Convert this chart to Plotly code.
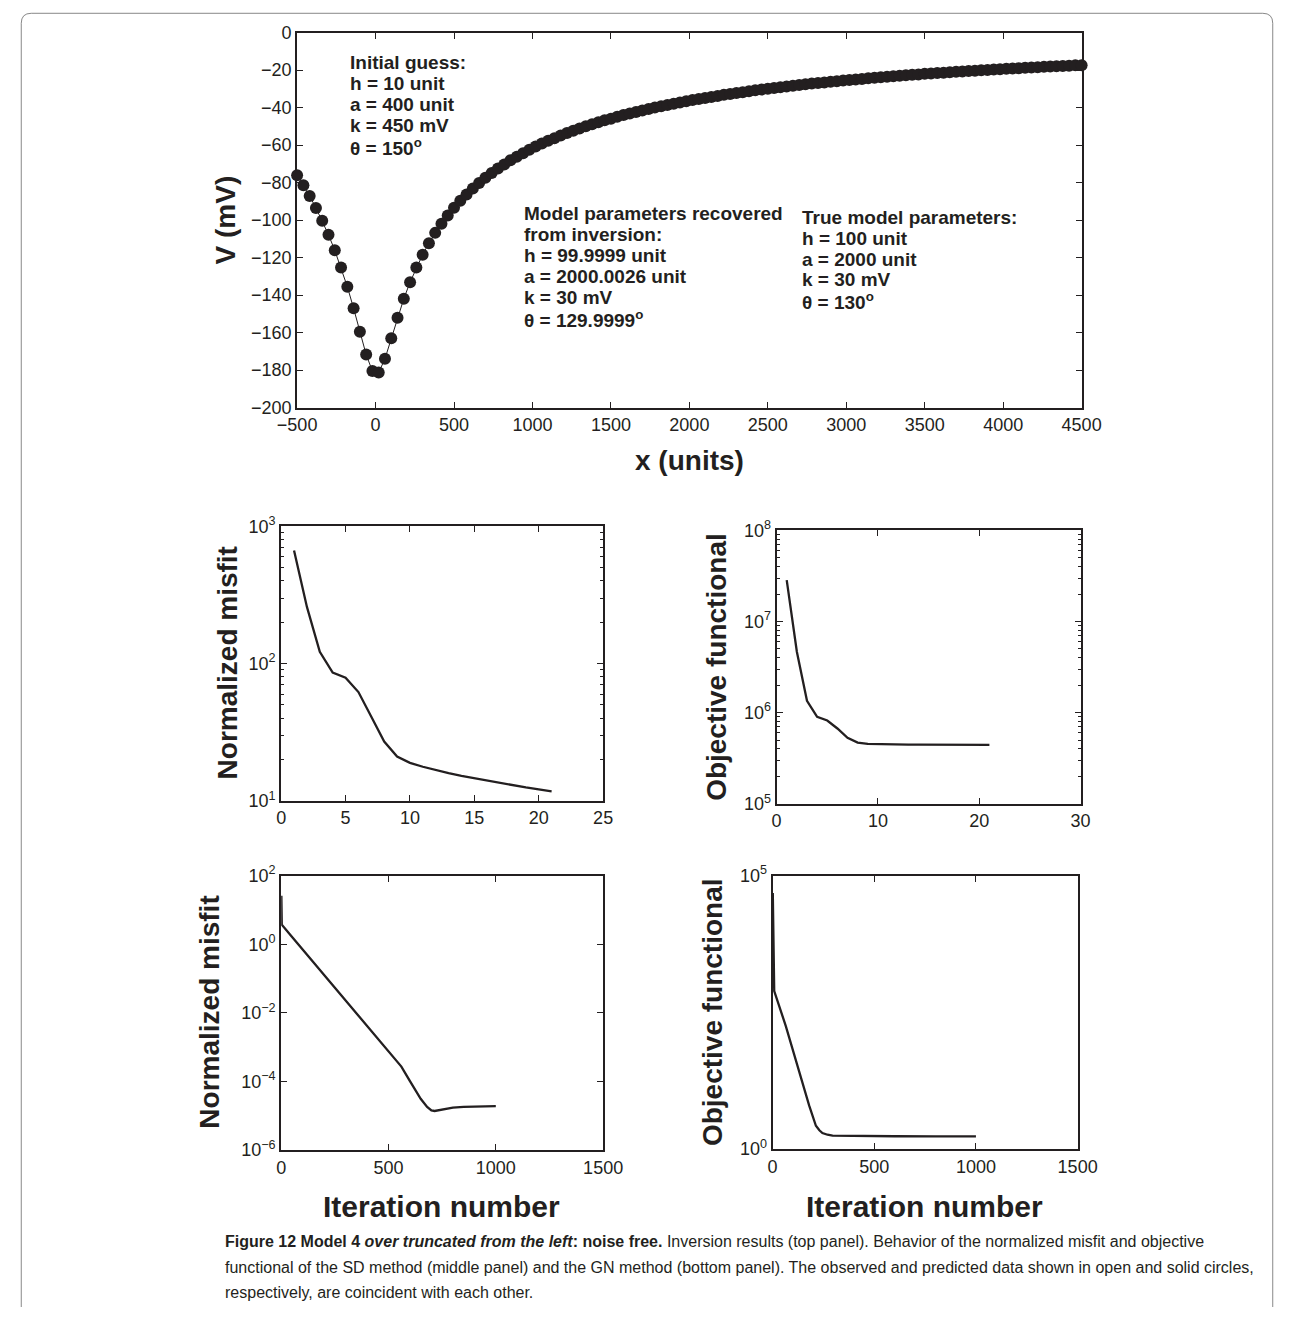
import plotly.graph_objects as go

W, H = 1294, 1317
INK = '#231f20'

# ---- top panel: V (mV) vs x (units), sampled every 40 units from -500 to 4500
x_obs = list(range(-500, 4501, 40))
v_pred = [-76.1, -81.4, -87.2, -93.5, -100.3, -107.8, -116.1, -125.3, -135.5, -147.0, -159.5, -171.7, -180.5,
          -181.2, -173.9, -163.0, -152.0, -141.9, -133.1, -125.3, -118.4, -112.3, -106.8, -101.9, -97.5, -93.4,
          -89.7, -86.3, -83.1, -80.2, -77.4, -74.9, -72.5, -70.3, -68.1, -66.2, -64.3, -62.5, -60.8, -59.2, -57.7,
          -56.3, -54.9, -53.6, -52.3, -51.1, -50.0, -48.9, -47.8, -46.8, -45.9, -44.9, -44.0, -43.2, -42.3, -41.5,
          -40.8, -40.0, -39.3, -38.6, -37.9, -37.3, -36.6, -36.0, -35.4, -34.9, -34.3, -33.8, -33.2, -32.7, -32.2,
          -31.8, -31.3, -30.8, -30.4, -30.0, -29.5, -29.1, -28.7, -28.4, -28.0, -27.6, -27.2, -26.9, -26.6, -26.2,
          -25.9, -25.6, -25.3, -25.0, -24.7, -24.4, -24.1, -23.8, -23.6, -23.3, -23.0, -22.8, -22.5, -22.3, -22.0,
          -21.8, -21.6, -21.4, -21.1, -20.9, -20.7, -20.5, -20.3, -20.1, -19.9, -19.7, -19.5, -19.3, -19.2, -19.0,
          -18.8, -18.6, -18.5, -18.3, -18.1, -18.0, -17.8, -17.7, -17.5, -17.4]

# ---- SD method (middle panels)
sd_iter = list(range(1, 22))
sd_misfit = [668, 259, 122, 86, 79, 62, 41, 27, 21, 18.9, 17.7, 16.7, 15.9, 15.2, 14.6, 14.0, 13.4, 12.9, 12.5, 12.1, 11.7]
sd_objective = [2.84e7, 4.66e6, 1.35e6, 9.0e5, 8.2e5, 6.7e5, 5.3e5, 4.7e5, 4.54e5, 4.5e5, 4.48e5, 4.47e5,
                4.46e5, 4.45e5, 4.45e5, 4.44e5, 4.44e5, 4.43e5, 4.43e5, 4.42e5, 4.42e5]

# ---- GN method (bottom panels)
gn_mis_iter = [1, 3, 50, 100, 200, 300, 400, 500, 560, 600, 650, 680, 700, 715, 740, 770, 800, 850, 900, 950, 1000]
gn_misfit = [26, 3.7, 1.64, 0.70, 0.127, 0.023, 0.0042, 7.5e-4, 2.7e-4, 1.02e-4, 3.1e-5, 1.8e-5, 1.42e-5,
             1.37e-5, 1.45e-5, 1.6e-5, 1.72e-5, 1.8e-5, 1.85e-5, 1.88e-5, 1.9e-5]
gn_obj_iter = [1, 8, 65, 131, 180, 213, 230, 245, 270, 295, 400, 600, 800, 1000]
gn_objective = [4.8e4, 770, 177, 24.9, 6.2, 2.66, 2.2, 1.96, 1.82, 1.75, 1.72, 1.71, 1.70, 1.70]

init_lines = ['Initial guess:', 'h = 10 unit', 'a = 400 unit', 'k = 450 mV', 'θ = 150<sup>o</sup>']
rec_lines = ['Model parameters recovered', 'from inversion:', 'h = 99.9999 unit', 'a = 2000.0026 unit',
             'k = 30 mV', 'θ = 129.9999<sup>o</sup>']
true_lines = ['True model parameters:', 'h = 100 unit', 'a = 2000 unit', 'k = 30 mV', 'θ = 130<sup>o</sup>']
caption = ['<b>Figure 12 Model 4 <i>over truncated from the left</i>: noise free.</b> Inversion results (top panel). Behavior of the normalized misfit and objective',
           'functional of the SD method (middle panel) and the GN method (bottom panel). The observed and predicted data shown in open and solid circles,',
           'respectively, are coincident with each other.']

# the page draws the figure paper into this box of the window
OX, SX = 18.0, 1258.0
OY, SY = 10.4, 1298.0


def px(x):
    return (x - OX) / SX


def py(y):
    return 1 - (y - OY) / SY


def xd(l, r):
    return [px(l), px(r)]


def yd(t, b):
    return [py(b), py(t)]


TF = dict(family='Liberation Sans, Arial, sans-serif', size=18, color=INK)
common = dict(showline=True, linecolor=INK, linewidth=2, mirror='ticks', ticks='inside', ticklen=6,
              tickwidth=1.2, tickcolor=INK, tickfont=TF, showgrid=False, zeroline=False)


def sup(n):
    s = str(n).replace('-', '−')
    return '10<sup>' + s + '</sup>'


def minor_ticks(lo, hi):
    return dict(ticks='inside', ticklen=3, tickcolor=INK, tickwidth=1, showgrid=False,
                tickvals=[m * 10 ** e for e in range(lo, hi) for m in range(2, 10)])


fig = go.Figure()
line = dict(color=INK, width=2.3)
fig.add_trace(go.Scatter(x=x_obs, y=v_pred, mode='lines+markers', line=dict(color=INK, width=1),
                         marker=dict(color=INK, size=12), cliponaxis=False, xaxis='x', yaxis='y'))
fig.add_trace(go.Scatter(x=sd_iter, y=sd_misfit, mode='lines', line=line, xaxis='x2', yaxis='y2'))
fig.add_trace(go.Scatter(x=sd_iter, y=sd_objective, mode='lines', line=line, xaxis='x3', yaxis='y3'))
fig.add_trace(go.Scatter(x=gn_mis_iter, y=gn_misfit, mode='lines', line=line, xaxis='x4', yaxis='y4'))
fig.add_trace(go.Scatter(x=gn_obj_iter, y=gn_objective, mode='lines', line=line, xaxis='x5', yaxis='y5'))

fig.update_layout(
    width=W, height=H, margin=dict(l=0, r=0, t=0, b=0), showlegend=False, autosize=False,
    paper_bgcolor='white', plot_bgcolor='white',
    xaxis=dict(domain=xd(296, 1083), anchor='y', range=[-500, 4500], tickvals=list(range(-500, 4501, 500)), **common),
    yaxis=dict(domain=yd(31, 407), anchor='x', range=[-200, 0], tickvals=list(range(-200, 1, 20)), **common),
    xaxis2=dict(domain=xd(280, 603), anchor='y2', range=[0, 25], tickvals=[0, 5, 10, 15, 20, 25], **common),
    yaxis2=dict(domain=yd(526, 801), anchor='x2', type='log', range=[1, 3], tickvals=[10, 100, 1000],
                ticktext=[sup(1), sup(2), sup(3)], minor=minor_ticks(1, 3), **common),
    xaxis3=dict(domain=xd(777, 1082), anchor='y3', range=[0, 30], tickvals=[0, 10, 20, 30], **common),
    yaxis3=dict(domain=yd(530, 804), anchor='x3', type='log', range=[5, 8], tickvals=[1e5, 1e6, 1e7, 1e8],
                ticktext=[sup(5), sup(6), sup(7), sup(8)], minor=minor_ticks(5, 8), **common),
    xaxis4=dict(domain=xd(280, 603), anchor='y4', range=[0, 1500], tickvals=[0, 500, 1000, 1500], **common),
    yaxis4=dict(domain=yd(876, 1151), anchor='x4', type='log', range=[-6, 2],
                tickvals=[1e-6, 1e-4, 1e-2, 1, 100], ticktext=[sup(-6), sup(-4), sup(-2), sup(0), sup(2)], **common),
    xaxis5=dict(domain=xd(773, 1079), anchor='y5', range=[0, 1500], tickvals=[0, 500, 1000, 1500], **common),
    yaxis5=dict(domain=yd(876, 1150), anchor='x5', type='log', range=[0, 5],
                tickvals=[1, 1e5], ticktext=[sup(0), sup(5)], **common),
)

ann = []
BF = dict(family='Liberation Sans, Arial, sans-serif', color=INK)


def add_text(text, x, y, size, angle=0, anchor='center'):
    ann.append(dict(text=text, x=px(x), y=py(y), xref='paper', yref='paper', showarrow=False,
                    xanchor=anchor, yanchor='middle', textangle=angle, font=dict(size=size, **BF)))


for i, t in enumerate(init_lines):
    add_text('<b>' + t + '</b>', 347, 61 + 21.2 * i, 19, anchor='left')
for i, t in enumerate(rec_lines):
    add_text('<b>' + t + '</b>', 522, 212 + 21.2 * i, 19, anchor='left')
for i, t in enumerate(true_lines):
    add_text('<b>' + t + '</b>', 800, 216 + 21 * i, 19, anchor='left')

add_text('<b>V (mV)</b>', 224, 219, 28, angle=-90)
add_text('<b>x (units)</b>', 690, 460, 28)
add_text('<b>Normalized misfit</b>', 226, 663, 28, angle=-90)
add_text('<b>Objective functional</b>', 716, 667, 28, angle=-90)
add_text('<b>Normalized misfit</b>', 208, 1013, 28, angle=-90)
add_text('<b>Objective functional</b>', 712, 1013, 28, angle=-90)
add_text('<b>Iteration number</b>', 441, 1208, 30)
add_text('<b>Iteration number</b>', 925, 1208, 30)

for i, t in enumerate(caption):
    ann.append(dict(text=t, x=px(222), y=py(1243 + 25.5 * i), xref='paper', yref='paper', showarrow=False,
                    xanchor='left', yanchor='middle',
                    font=dict(size=16, family='Liberation Sans, Arial, sans-serif', color=INK)))
fig.update_layout(annotations=ann)

# rounded frame around the figure (open at the bottom)
fl, fr, ft, fb = 0.001, 0.999, 0.999, 0.0
rx, ry = 10 / SX, 10 / SY
path = (f'M {fl},{fb} L {fl},{ft - ry} Q {fl},{ft} {fl + rx},{ft} '
        f'L {fr - rx},{ft} Q {fr},{ft} {fr},{ft - ry} L {fr},{fb}')
fig.add_shape(type='path', path=path, xref='paper', yref='paper', line=dict(color='#888888', width=1))

fig.write_html('out.html')
